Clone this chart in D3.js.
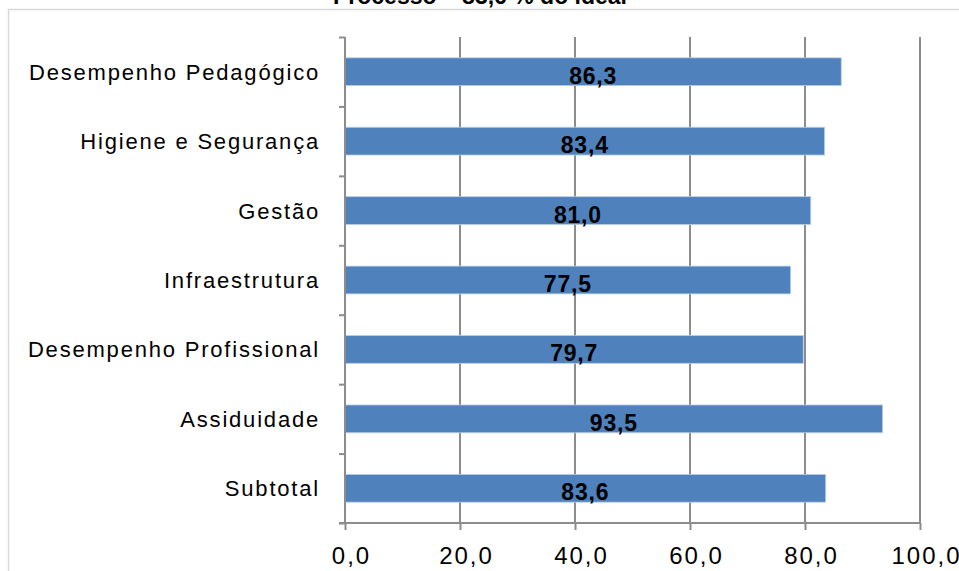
<!DOCTYPE html>
<html>
<head>
<meta charset="utf-8">
<script src="https://cdn.jsdelivr.net/npm/d3@7"></script>
<style>
  body { margin: 0; background: #fff; }
  svg { display: block; }
</style>
</head>
<body>
<script>
var categories = ["Desempenho Pedagógico", "Higiene e Segurança", "Gestão", "Infraestrutura",
                  "Desempenho Profissional", "Assiduidade", "Subtotal"];
var values = [86.3, 83.4, 81.0, 77.5, 79.7, 93.5, 83.6];
var xTicks = [0, 20, 40, 60, 80, 100];
var title = "Processo – 83,6 % do ideal";

var width = 959, height = 571;
var plotLeft = 345, plotRight = 920, plotTop = 37, plotBottom = 523;

var svg = d3.select("body").append("svg")
    .attr("width", width)
    .attr("height", height);

// chart border (cut by the window)
svg.append("rect")
    .attr("x", 8.5).attr("y", 9.5)
    .attr("width", 1000).attr("height", 1000)
    .attr("fill", "none")
    .attr("stroke", "#d9d9d9")
    .attr("stroke-width", 1.5);

svg.append("text")
    .attr("x", 480).attr("y", 4)
    .attr("text-anchor", "middle")
    .attr("font-family", "Liberation Sans, sans-serif")
    .attr("font-weight", "bold")
    .attr("font-size", 23)
    .text(title);

var xScale = d3.scaleLinear().domain([0, 100]).range([plotLeft, plotRight]);
var yScale = d3.scaleBand().domain(categories).range([plotTop, plotBottom]).paddingInner(0.6).paddingOuter(0.3);
var yEdges = d3.scaleLinear().domain([0, categories.length]).range([plotTop, plotBottom]);

// gridlines
svg.append("g")
    .selectAll("line")
    .data(xTicks.slice(1))
    .join("line")
    .attr("x1", function(d) { return xScale(d); })
    .attr("x2", function(d) { return xScale(d); })
    .attr("y1", plotTop)
    .attr("y2", plotBottom)
    .attr("stroke", "#8c8c8c")
    .attr("stroke-width", 2);

// bars
svg.append("g")
    .selectAll("rect")
    .data(values)
    .join("rect")
    .attr("x", xScale(0))
    .attr("y", function(d, i) { return yScale(categories[i]); })
    .attr("width", function(d) { return xScale(d) - xScale(0); })
    .attr("height", yScale.bandwidth())
    .attr("fill", "#4f81bd")
    .attr("stroke", "#b9cde5")
    .attr("stroke-width", 0.8);

// value labels
svg.append("g")
    .selectAll("text")
    .data(values)
    .join("text")
    .attr("x", function(d) { return xScale(d / 2); })
    .attr("y", function(d, i) { return yScale(categories[i]) + yScale.bandwidth() / 2 + 12; })
    .attr("text-anchor", "middle")
    .attr("font-family", "Liberation Sans, sans-serif")
    .attr("font-weight", "bold")
    .attr("font-size", 23)
    .attr("letter-spacing", 0.8)
    .attr("fill", "#000")
    .text(function(d) { return d.toFixed(1).replace(".", ","); });

// x axis
var xAxis = svg.append("g")
    .attr("transform", "translate(0," + plotBottom + ")")
    .call(d3.axisBottom(xScale).tickValues(xTicks).tickSize(7).tickPadding(17)
        .tickFormat(function(d) { return d.toFixed(1).replace(".", ","); }));
xAxis.select(".domain").attr("stroke", "#8c8c8c").attr("stroke-width", 2)
    .attr("d", "M" + (plotLeft - 6) + ",0H" + plotRight);
xAxis.selectAll(".tick line").attr("stroke", "#8c8c8c").attr("stroke-width", 2);
xAxis.selectAll(".tick text")
    .attr("x", 6)
    .attr("font-family", "Liberation Sans, sans-serif")
    .attr("font-size", 24)
    .attr("letter-spacing", 2)
    .attr("fill", "#000");

// y axis (ticks at category boundaries)
var yAxis = svg.append("g")
    .attr("transform", "translate(" + plotLeft + ",0)")
    .call(d3.axisLeft(yEdges).tickValues(d3.range(categories.length + 1)).tickSize(6).tickFormat(""));
yAxis.select(".domain").attr("stroke", "#8c8c8c").attr("stroke-width", 2)
    .attr("d", "M0," + plotTop + "V" + plotBottom);
yAxis.selectAll(".tick line").attr("stroke", "#8c8c8c").attr("stroke-width", 2);

// category labels
svg.append("g")
    .selectAll("text")
    .data(categories)
    .join("text")
    .attr("x", plotLeft - 25)
    .attr("y", function(d) { return yScale(d) + yScale.bandwidth() / 2 + 8; })
    .attr("text-anchor", "end")
    .attr("font-family", "Liberation Sans, sans-serif")
    .attr("font-size", 22)
    .attr("letter-spacing", 1.8)
    .attr("fill", "#000")
    .text(function(d) { return d; });
</script>
</body>
</html>
